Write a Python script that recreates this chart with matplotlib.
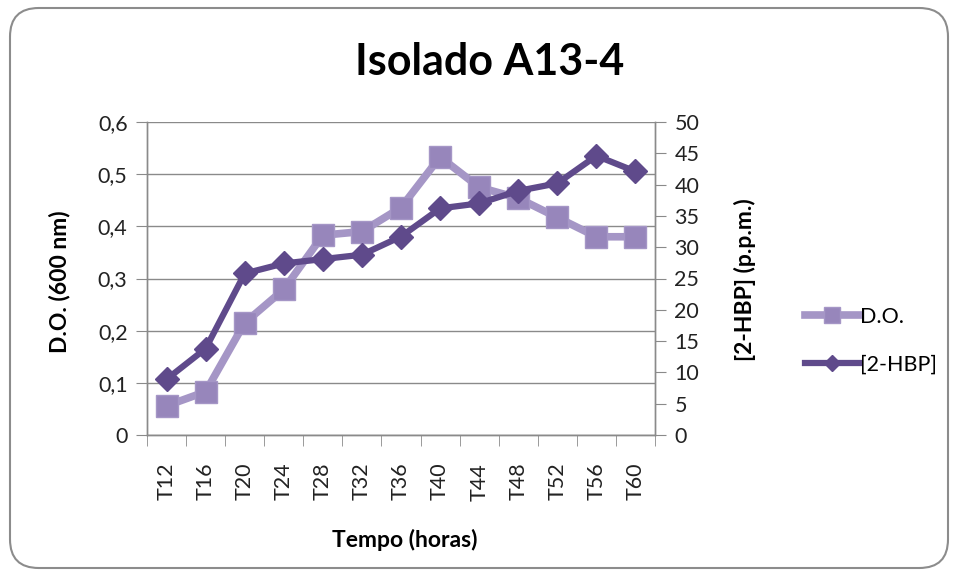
import matplotlib.pyplot as plt
from matplotlib.patches import FancyBboxPatch
from matplotlib.ticker import FixedLocator

plt.rcParams['font.family'] = ['Lato', 'DejaVu Sans']

# data
tempos = ["T12", "T16", "T20", "T24", "T28", "T32", "T36",
          "T40", "T44", "T48", "T52", "T56", "T60"]
do_600 = [0.056, 0.083, 0.215, 0.279, 0.383, 0.390, 0.436,
          0.533, 0.475, 0.454, 0.417, 0.380, 0.380]
hbp_ppm = [8.9, 13.8, 25.8, 27.4, 28.1, 28.8, 31.7,
           36.2, 37.0, 39.0, 40.2, 44.6, 42.1]
left_ticks = [0, 0.1, 0.2, 0.3, 0.4, 0.5, 0.6]
left_labels = ["0", "0,1", "0,2", "0,3", "0,4", "0,5", "0,6"]
right_ticks = [0, 5, 10, 15, 20, 25, 30, 35, 40, 45, 50]

light = "#a596c6"
light_mk = "#9786bb"
dark = "#5f4a8b"
grid_c = "#8a8a8a"
tick_fs = 15.5
label_fs = 16.5

fig = plt.figure(figsize=(9.58, 5.78), dpi=100)

# rounded chart border
border = FancyBboxPatch((10 / 958, 10 / 578), 938 / 958, 560 / 578,
                        boxstyle="round,pad=0,rounding_size=0.03",
                        transform=fig.transFigure, fill=False,
                        edgecolor="#8c8c8c", linewidth=1.5,
                        mutation_aspect=958 / 578)
fig.patches.append(border)

ax = fig.add_axes([147 / 958, 1 - 435 / 578, 508 / 958, 313 / 578])
ax2 = ax.twinx()

x = list(range(len(tempos)))
ax.plot(x, do_600, color=light, linewidth=5.5, marker="s", markersize=16,
        markerfacecolor=light_mk, markeredgecolor=light, markeredgewidth=1,
        label="D.O.", zorder=3)
ax2.plot(x, hbp_ppm, color=dark, linewidth=4.5, marker="D", markersize=12,
         markerfacecolor=dark, markeredgecolor=dark, label="[2-HBP]", zorder=3)

ax.set_xlim(-0.5, len(tempos) - 0.5)
ax.set_ylim(0, 0.6)
ax2.set_ylim(0, 50)

ax.set_yticks(left_ticks)
ax.set_yticklabels(left_labels)
ax2.set_yticks(right_ticks)

ax.set_xticks(x)
ax.set_xticklabels(tempos, rotation=90)
ax.xaxis.set_minor_locator(FixedLocator([i - 0.5 for i in range(len(tempos) + 1)]))
ax.tick_params(axis="x", which="major", length=0, pad=20, labelsize=tick_fs,
               labelcolor="#222222")
ax.tick_params(axis="x", which="minor", length=8, direction="out", color=grid_c)
ax.tick_params(axis="y", length=8, direction="out", color=grid_c, labelsize=tick_fs,
               labelcolor="#222222", pad=6)
ax2.tick_params(axis="y", length=8, direction="out", color=grid_c, labelsize=tick_fs,
                labelcolor="#222222", pad=6)

ax.yaxis.grid(True, color=grid_c, linewidth=1)
ax.set_axisbelow(True)
for a in (ax, ax2):
    a.spines["top"].set_visible(False)
    for s in ("left", "right", "bottom"):
        a.spines[s].set_color(grid_c)
        a.spines[s].set_linewidth(1)

fig.text(490 / 958, 1 - 62 / 578, "Isolado A13-4", ha="center", va="center",
         fontsize=31, fontweight="bold")
fig.text(60 / 958, 1 - 282 / 578, "D.O. (600 nm)", ha="center", va="center",
         rotation=90, fontsize=label_fs, fontweight="bold")
fig.text(745 / 958, 1 - 280 / 578, "[2-HBP] (p.p.m.)", ha="center", va="center",
         rotation=90, fontsize=label_fs, fontweight="bold")
fig.text(405 / 958, 1 - 540 / 578, "Tempo (horas)", ha="center", va="center",
         fontsize=label_fs, fontweight="bold")

h1, l1 = ax.get_legend_handles_labels()
h2, l2 = ax2.get_legend_handles_labels()
fig.legend(h1 + h2, l1 + l2, loc="center left",
           bbox_to_anchor=(786 / 958, 1 - 341 / 578), frameon=False,
           fontsize=tick_fs, handlelength=2.5, handletextpad=0.05, labelspacing=1.3,
           markerscale=0.7)

fig.savefig("out.png", dpi=100)
